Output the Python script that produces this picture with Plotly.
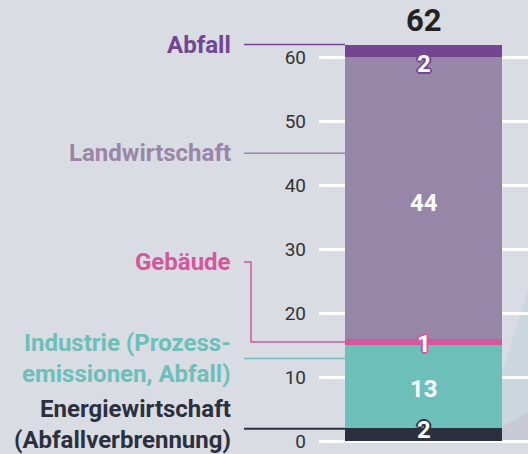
import plotly.graph_objects as go

# ---- data ----
sectors = ["Energiewirtschaft<br>(Abfallverbrennung)", "Industrie (Prozess-<br>emissionen, Abfall)",
           "Gebäude", "Landwirtschaft", "Abfall"]
values = [2, 13, 1, 44, 2]
total_label = "62"
colors = ["#2b303e", "#6dbfb9", "#d4579e", "#9886a8", "#734593"]
text_colors = ["#2b303e", "#6dbfb9", "#d4579e", "#9a87a8", "#734593"]
tick_vals = [0, 10, 20, 30, 40, 50, 60]
# value at which each sector label / leader line is placed
label_at = [1.9, 12.9, 28, 45, 62]

# ---- layout constants ----
W, H = 528, 454
ML = 319
PW = W - ML
BG = "#d9dce3"

def px_to_paper(px):
    return (px - ML) / PW

fig = go.Figure()
for name, v, c in zip(sectors, values, colors):
    fig.add_trace(go.Bar(x=[0], y=[v], width=1, marker=dict(color=c, line=dict(width=0)),
                         name=name, showlegend=False, hoverinfo="skip"))

shapes = []
annotations = []

# decorative background shapes (bottom right)
shapes.append(dict(type="path", xref="paper", yref="paper", layer="below",
                   path=f"M {px_to_paper(502)},{1-373/H} L 1,{1-290/H} L 1,{1-441/H} L {px_to_paper(502)},{1-441/H} Z",
                   fillcolor="#cbd6de", line=dict(width=0)))
shapes.append(dict(type="path", xref="paper", yref="paper", layer="below",
                   path=f"M {px_to_paper(502)},{1-427/H} L 1,{1-412/H} L 1,{1-441/H} L {px_to_paper(502)},{1-441/H} Z",
                   fillcolor="#c8cad3", line=dict(width=0)))

x_line0 = px_to_paper(244)
x_line1 = px_to_paper(345)
x_text = px_to_paper(233)

cum = 0
mids = []
for v in values:
    mids.append(cum + v / 2)
    cum += v

text_shift = [4, 0, 0, 0, 0]
for i, (name, c, tc) in enumerate(zip(sectors, colors, text_colors)):
    ly = label_at[i]
    if name == "Gebäude":
        xk = px_to_paper(251)
        shapes.append(dict(type="path", xref="paper", yref="y",
                           path=f"M {x_line0},{ly} L {xk},{ly} L {xk},{mids[i]} L {x_line1},{mids[i]}",
                           line=dict(color=c, width=1.5)))
    else:
        shapes.append(dict(type="line", xref="paper", yref="y", x0=x_line0, x1=x_line1,
                           y0=ly, y1=ly, line=dict(color=c, width=2 if i == 0 else 1.5)))
    annotations.append(dict(xref="paper", yref="y", x=x_text, y=ly, yshift=text_shift[i], text=name,
                            xanchor="right", yanchor="middle", align="right", showarrow=False,
                            font=dict(family="Roboto", size=24, color=tc, weight="bold")))

# value labels
shifts = [5, -2, -2, -5, -13]
outlined = [True, False, True, False, True]
for i, v in enumerate(values):
    c = colors[i]
    sh = "none"
    if outlined[i]:
        sh = ", ".join(f"{dx}px {dy}px 0 {c}" for dx, dy in
                       [(1, 1), (-1, -1), (1, -1), (-1, 1), (2, 0), (-2, 0), (0, 2), (0, -2)])
    annotations.append(dict(xref="x", yref="y", x=0, y=mids[i], yshift=shifts[i], text=str(v),
                            showarrow=False, xanchor="center", yanchor="middle",
                            font=dict(family="Roboto", size=24, color="white", weight="bold", shadow=sh)))

annotations.append(dict(xref="x", yref="y", x=0, y=65.7, text=total_label, showarrow=False,
                        xanchor="center", yanchor="middle",
                        font=dict(family="Roboto", size=31, color="#222222", weight="bold")))

fig.update_layout(
    width=W, height=H,
    margin=dict(l=ML, r=0, t=0, b=0, pad=0),
    paper_bgcolor=BG, plot_bgcolor=BG,
    barmode="stack", bargap=0,
    shapes=shapes, annotations=annotations,
    xaxis=dict(range=[-0.6656, 0.6656], showgrid=False, zeroline=False, showticklabels=False,
               showline=False, fixedrange=True),
    yaxis=dict(range=[-2.033, 68.96], tickvals=tick_vals, showgrid=True, gridcolor="white",
               gridwidth=2.5, zeroline=False, showline=False, ticks="",
               ticklabelstandoff=12,
               tickfont=dict(family="Roboto", size=19, color="#333333"), fixedrange=True),
)

fig.write_html("out.html", config={"displayModeBar": False},
               post_script="document.body.style.margin='0';document.body.style.overflow='hidden';")
